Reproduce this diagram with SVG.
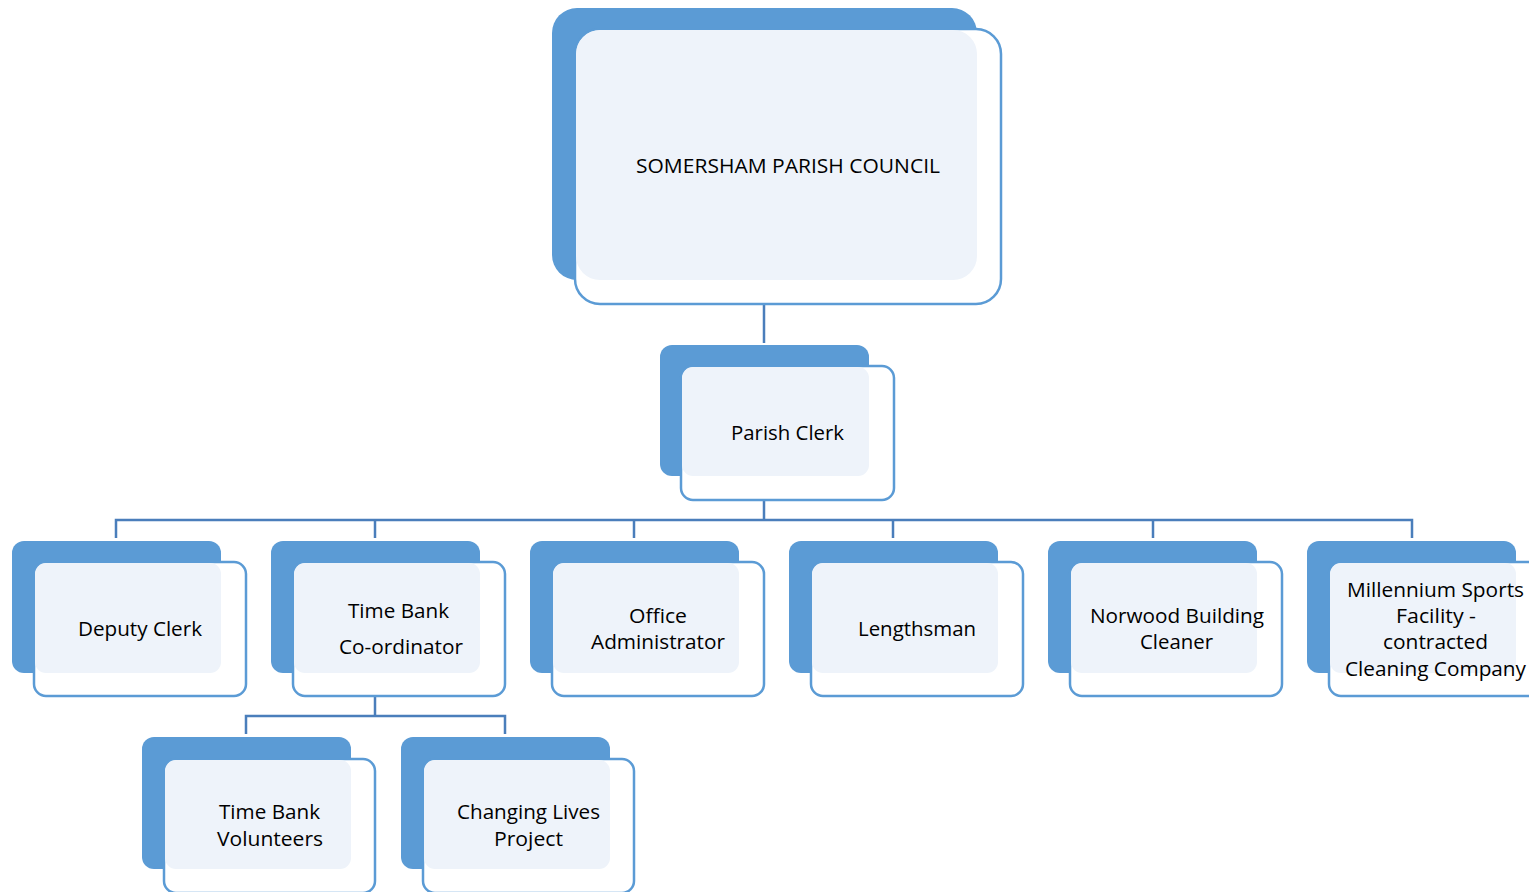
<svg xmlns="http://www.w3.org/2000/svg" width="1529" height="892" viewBox="0 0 1529 892">
<style>
.bk{fill:#5B9BD5}
.ol{fill:#FFFFFF;stroke:#5B9BD5;stroke-width:2.5}
.lt{fill:#EEF3FA}
.t{font-family:"Open Sans","Liberation Sans",sans-serif;font-size:20px;fill:#000;text-anchor:middle}
.c{stroke:#4A7EBB;stroke-width:2.5;fill:none}
</style>
<rect x="0" y="0" width="1529" height="892" fill="#FFFFFF"/>
<g id="connectors">
<line x1="764" y1="282" x2="764" y2="304" stroke="#E4ECF6" stroke-width="2.5"/>
<line class="c" x1="764" y1="304" x2="764" y2="343"/>
<line x1="764" y1="478" x2="764" y2="500" stroke="#E4ECF6" stroke-width="2.5"/>
<line class="c" x1="764" y1="500" x2="764" y2="520"/>
<polyline class="c" points="116,538 116,520 1412,520 1412,538"/>
<line class="c" x1="375" y1="520" x2="375" y2="538"/>
<line class="c" x1="634" y1="520" x2="634" y2="538"/>
<line class="c" x1="893" y1="520" x2="893" y2="538"/>
<line class="c" x1="1153" y1="520" x2="1153" y2="538"/>
<line x1="375" y1="675" x2="375" y2="696" stroke="#E4ECF6" stroke-width="2.5"/>
<line class="c" x1="375" y1="696" x2="375" y2="716"/>
<polyline class="c" points="246,734 246,716 505,716 505,734"/>
</g>
<g id="n-council">
<rect class="bk" x="552" y="8" width="425" height="272" rx="25"/>
<rect class="ol" x="575" y="29" width="426" height="275" rx="25"/>
<rect class="lt" x="576" y="30" width="401" height="250" rx="24"/>
<text class="t" x="788" y="173" textLength="304" lengthAdjust="spacingAndGlyphs">SOMERSHAM PARISH COUNCIL</text>
</g>
<g id="n-clerk">
<rect class="bk" x="660" y="345" width="209" height="131" rx="12"/>
<rect class="ol" x="681" y="366" width="213" height="134" rx="12"/>
<rect class="lt" x="682" y="367" width="187" height="109" rx="11"/>
<text class="t" x="787.5" y="440" textLength="113" lengthAdjust="spacingAndGlyphs">Parish Clerk</text>
</g>
<g id="n-deputy">
<rect class="bk" x="12" y="541" width="209" height="132" rx="12"/>
<rect class="ol" x="34" y="562" width="212" height="134" rx="12"/>
<rect class="lt" x="35" y="563" width="186" height="110" rx="11"/>
<text class="t" x="140" y="636" textLength="124" lengthAdjust="spacingAndGlyphs">Deputy Clerk</text>
</g>
<g id="n-timebank">
<rect class="bk" x="271" y="541" width="209" height="132" rx="12"/>
<rect class="ol" x="293" y="562" width="212" height="134" rx="12"/>
<rect class="lt" x="294" y="563" width="186" height="110" rx="11"/>
<text class="t" x="398.5" y="618" textLength="101" lengthAdjust="spacingAndGlyphs">Time Bank</text>
<text class="t" x="401" y="654" textLength="124" lengthAdjust="spacingAndGlyphs">Co-ordinator</text>
</g>
<g id="n-office">
<rect class="bk" x="530" y="541" width="209" height="132" rx="12"/>
<rect class="ol" x="552" y="562" width="212" height="134" rx="12"/>
<rect class="lt" x="553" y="563" width="186" height="110" rx="11"/>
<text class="t" x="658" y="623" textLength="58" lengthAdjust="spacingAndGlyphs">Office</text>
<text class="t" x="658" y="649" textLength="134" lengthAdjust="spacingAndGlyphs">Administrator</text>
</g>
<g id="n-lengthsman">
<rect class="bk" x="789" y="541" width="209" height="132" rx="12"/>
<rect class="ol" x="811" y="562" width="212" height="134" rx="12"/>
<rect class="lt" x="812" y="563" width="186" height="110" rx="11"/>
<text class="t" x="917" y="636" textLength="118" lengthAdjust="spacingAndGlyphs">Lengthsman</text>
</g>
<g id="n-norwood">
<rect class="bk" x="1048" y="541" width="209" height="132" rx="12"/>
<rect class="ol" x="1070" y="562" width="212" height="134" rx="12"/>
<rect class="lt" x="1071" y="563" width="186" height="110" rx="11"/>
<text class="t" x="1177" y="623" textLength="174" lengthAdjust="spacingAndGlyphs">Norwood Building</text>
<text class="t" x="1176.5" y="649" textLength="73" lengthAdjust="spacingAndGlyphs">Cleaner</text>
</g>
<g id="n-millennium">
<rect class="bk" x="1307" y="541" width="209" height="132" rx="12"/>
<rect class="ol" x="1329" y="562" width="212" height="134" rx="12"/>
<rect class="lt" x="1330" y="563" width="186" height="110" rx="11"/>
<text class="t" x="1435.5" y="597" textLength="177" lengthAdjust="spacingAndGlyphs">Millennium Sports</text>
<text class="t" x="1436" y="623" textLength="80" lengthAdjust="spacingAndGlyphs">Facility -</text>
<text class="t" x="1435.5" y="649" textLength="105" lengthAdjust="spacingAndGlyphs">contracted</text>
<text class="t" x="1435.5" y="676" textLength="181" lengthAdjust="spacingAndGlyphs">Cleaning Company</text>
</g>
<g id="n-volunteers">
<rect class="bk" x="142" y="737" width="209" height="132" rx="12"/>
<rect class="ol" x="164" y="759" width="211" height="134" rx="12"/>
<rect class="lt" x="165" y="760" width="186" height="109" rx="11"/>
<text class="t" x="269.5" y="819" textLength="101" lengthAdjust="spacingAndGlyphs">Time Bank</text>
<text class="t" x="270" y="846" textLength="106" lengthAdjust="spacingAndGlyphs">Volunteers</text>
</g>
<g id="n-changing">
<rect class="bk" x="401" y="737" width="209" height="132" rx="12"/>
<rect class="ol" x="423" y="759" width="211" height="134" rx="12"/>
<rect class="lt" x="424" y="760" width="186" height="109" rx="11"/>
<text class="t" x="528.5" y="819" textLength="143" lengthAdjust="spacingAndGlyphs">Changing Lives</text>
<text class="t" x="528.5" y="846" textLength="69" lengthAdjust="spacingAndGlyphs">Project</text>
</g>
</svg>
